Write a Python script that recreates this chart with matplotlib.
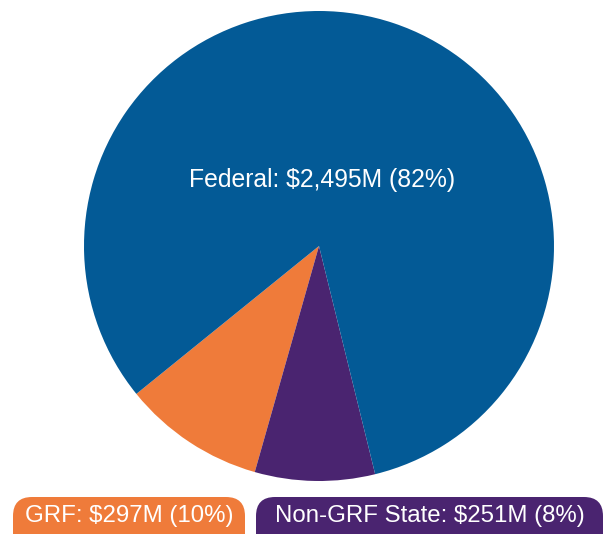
import matplotlib
matplotlib.use('Agg')
import matplotlib.pyplot as plt
from matplotlib.patches import FancyBboxPatch

# data (millions of dollars)
labels = ['GRF', 'Non-GRF State', 'Federal']
values = [297, 251, 2495]
pcts = [10, 8, 82]
colors = ['#EF7B3A', '#4A2470', '#035A96']

plt.rcParams['font.family'] = ['Liberation Sans', 'DejaVu Sans']

W, H = 604, 534
fig = plt.figure(figsize=(W / 100, H / 100), dpi=100)
ax = fig.add_axes([0, 0, 1, 1])

# pie in pixel coords, GRF starting lower-left going counter-clockwise
ax.pie(values, colors=colors, center=(319, H - 246), radius=235,
       startangle=219, counterclock=True, frame=True,
       wedgeprops=dict(linewidth=0))
ax.set_xlim(0, W)
ax.set_ylim(0, H)
ax.axis('off')

def money(v):
    return '${:,}M'.format(v)

# Federal label inside pie
ax.text(322, H - 180, '{}: {} ({}%)'.format(labels[2], money(values[2]), pcts[2]),
        color='white', fontsize=17.8, ha='center', va='center')

# label boxes at the bottom
boxes = [(13, 245), (256, 603)]
r = 19
for i, (x0, x1) in enumerate(boxes):
    p = FancyBboxPatch((x0 + r, -10), (x1 - x0) - 2 * r, (H - 497) + 10 - r,
                       boxstyle='round,pad=%d' % r, fc=colors[i], ec='none', clip_on=False)
    ax.add_patch(p)
    ax.text((x0 + x1) / 2, H - 516,
            '{}: {} ({}%)'.format(labels[i], money(values[i]), pcts[i]),
            color='white', fontsize=17.3, ha='center', va='center')

fig.savefig('out.png', dpi=100)
